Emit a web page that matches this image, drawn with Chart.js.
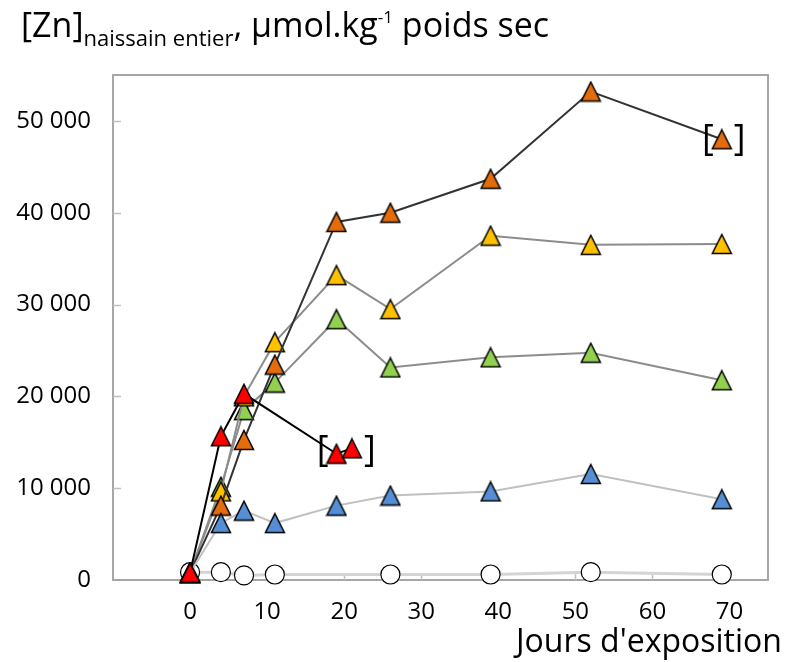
<!DOCTYPE html>
<html>
<head>
<meta charset="utf-8">
<script src="https://cdn.jsdelivr.net/npm/chart.js@4.4.1/dist/chart.umd.min.js"></script>
<style>
  html, body { margin: 0; padding: 0; background: #fff; }
  #wrap { position: relative; width: 789px; height: 662px; font-family: "Open Sans", sans-serif; color: #000; }
  #wrap canvas { position: absolute; left: 0; top: 0; }
  #title { position: absolute; left: 21px; top: 4px; font-size: 34px; line-height: 40px; white-space: nowrap; }
  #title sub { font-size: 22px; vertical-align: -9px; line-height: 0; }
  #title sup { font-size: 17px; vertical-align: 14px; line-height: 0; }
  #xtitle { position: absolute; left: 516px; top: 620px; font-size: 32px; line-height: 40px; white-space: nowrap; }
</style>
</head>
<body>
<div id="wrap">
  <canvas id="znChart" width="789" height="662"></canvas>
  <div id="title">[Zn]<sub>naissain entier</sub>, μmol.kg<sup>-1</sup> poids sec</div>
  <div id="xtitle">Jours d'exposition</div>
</div>
<script>
// days of exposure per series + zinc in whole spat (umol/kg dry weight)
const redDays = [0, 4, 7, 19, 21];
const redZn = [800, 15650, 20280, 13750, 14330];

const dayList = [0, 4, 7, 11, 19, 26, 39, 52, 69];
const orangeZn = [800, 8100, 15250, 23450, 39000, 40000, 43700, 53200, 48000];
const yellowZn = [800, 9650, 20000, 25900, 33200, 29500, 37500, 36500, 36600];
const greenZn = [800, 10150, 18500, 21500, 28400, 23150, 24250, 24750, 21750];
const blueZn = [800, 6200, 7550, 6200, 8100, 9200, 9650, 11550, 8800];

const ctrlDays = [0, 4, 7, 11, 26, 39, 52, 69];
const ctrlZn = [850, 850, 500, 600, 600, 600, 850, 600];

const xTickValues = [0, 10, 20, 30, 40, 50, 60, 70];
const yTickValues = [10000, 20000, 30000, 40000, 50000];

// points put between brackets: [dataset label, first day, last day]
const bracketed = [["red", 19, 21], ["orange", 69, 69]];

function pts(days, vals) {
  return days.map((d, i) => ({ x: d, y: vals[i] }));
}

function triangleMarker(fill) {
  const c = document.createElement("canvas");
  c.width = 22; c.height = 22;
  const g = c.getContext("2d");
  g.beginPath();
  g.moveTo(11, 1.5);
  g.lineTo(20.5, 20.5);
  g.lineTo(1.5, 20.5);
  g.closePath();
  g.fillStyle = fill;
  g.fill();
  g.lineWidth = 1.5;
  g.strokeStyle = "#000";
  g.stroke();
  return c;
}

function triSeries(label, days, vals, fill, line) {
  return {
    label: label,
    data: pts(days, vals),
    borderColor: line,
    borderWidth: 2,
    pointStyle: triangleMarker(fill),
    pointRadius: 10,
    pointHoverRadius: 10,
    tension: 0,
    clip: false
  };
}

const framePlugin = {
  id: "frame",
  beforeDatasetsDraw(chart) {
    const { ctx, chartArea: a, scales } = chart;
    ctx.save();
    ctx.strokeStyle = "#A6A6A6";
    ctx.lineWidth = 2;
    ctx.strokeRect(a.left, a.top, a.right - a.left, a.bottom - a.top);
    ctx.strokeStyle = "#BFBFBF";
    ctx.lineWidth = 1.5;
    ctx.beginPath();
    yTickValues.forEach(v => {
      const py = Math.round(scales.y.getPixelForValue(v)) + 0.5;
      ctx.moveTo(a.left, py);
      ctx.lineTo(a.left + 8, py);
    });
    xTickValues.forEach(v => {
      const px = Math.round(scales.x.getPixelForValue(v)) + 0.5;
      ctx.moveTo(px, a.bottom);
      ctx.lineTo(px, a.bottom - 7);
    });
    ctx.stroke();
    ctx.restore();
  }
};

const bracketPlugin = {
  id: "brackets",
  afterDatasetsDraw(chart) {
    const { ctx, scales } = chart;
    ctx.save();
    ctx.fillStyle = "#000";
    ctx.font = '36px "Open Sans"';
    ctx.textBaseline = "middle";
    bracketed.forEach(([label, d0, d1]) => {
      const ds = chart.data.datasets.find(d => d.label === label);
      const sel = ds.data.filter(p => p.x >= d0 && p.x <= d1);
      const x0 = scales.x.getPixelForValue(d0);
      const x1 = scales.x.getPixelForValue(d1);
      const yc = sel.reduce((s, p) => s + scales.y.getPixelForValue(p.y), 0) / sel.length;
      ctx.textAlign = "right";
      ctx.fillText("[", x0 - 8, yc);
      ctx.textAlign = "left";
      ctx.fillText("]", x1 + 12, yc);
    });
    ctx.restore();
  }
};

const tickFont = { family: "Open Sans", size: 24 };

new Chart(document.getElementById("znChart"), {
  type: "line",
  data: {
    datasets: [
      triSeries("red", redDays, redZn, "#FF0000", "#000000"),
      triSeries("blue", dayList, blueZn, "#558ED5", "#C0C0C0"),
      triSeries("orange", dayList, orangeZn, "#E46C0A", "#333333"),
      triSeries("yellow", dayList, yellowZn, "#FFC000", "#8C8C8C"),
      triSeries("green", dayList, greenZn, "#92D050", "#8C8C8C"),
      {
        label: "control",
        data: pts(ctrlDays, ctrlZn),
        borderColor: "#D4D4D4",
        borderWidth: 3,
        pointStyle: "circle",
        pointRadius: 9.5,
        pointBackgroundColor: "#FFFFFF",
        pointBorderColor: "#000000",
        pointBorderWidth: 1.2,
        tension: 0,
        clip: false
      }
    ]
  },
  options: {
    responsive: false,
    animation: false,
    devicePixelRatio: 1,
    layout: { padding: { top: 75, right: 21, left: 0, bottom: 0 } },
    plugins: { legend: { display: false }, tooltip: { enabled: false }, title: { display: false } },
    scales: {
      x: {
        type: "linear",
        min: -10,
        max: 75,
        afterFit: s => { s.height = 82; },
        grid: { display: false, drawTicks: false },
        border: { display: false },
        afterBuildTicks: s => { s.ticks = xTickValues.map(v => ({ value: v })); },
        ticks: { color: "#000", font: tickFont, padding: 18, maxRotation: 0 }
      },
      y: {
        min: 0,
        max: 55000,
        afterFit: s => { s.width = 113; },
        grid: { display: false, drawTicks: false },
        border: { display: false },
        afterBuildTicks: s => { s.ticks = [0].concat(yTickValues).map(v => ({ value: v })); },
        ticks: {
          color: "#000",
          font: tickFont,
          padding: 22,
          callback: v => String(v).replace(/\B(?=(\d{3})+(?!\d))/g, " ")
        }
      }
    }
  },
  plugins: [framePlugin, bracketPlugin]
});
</script>
</body>
</html>
